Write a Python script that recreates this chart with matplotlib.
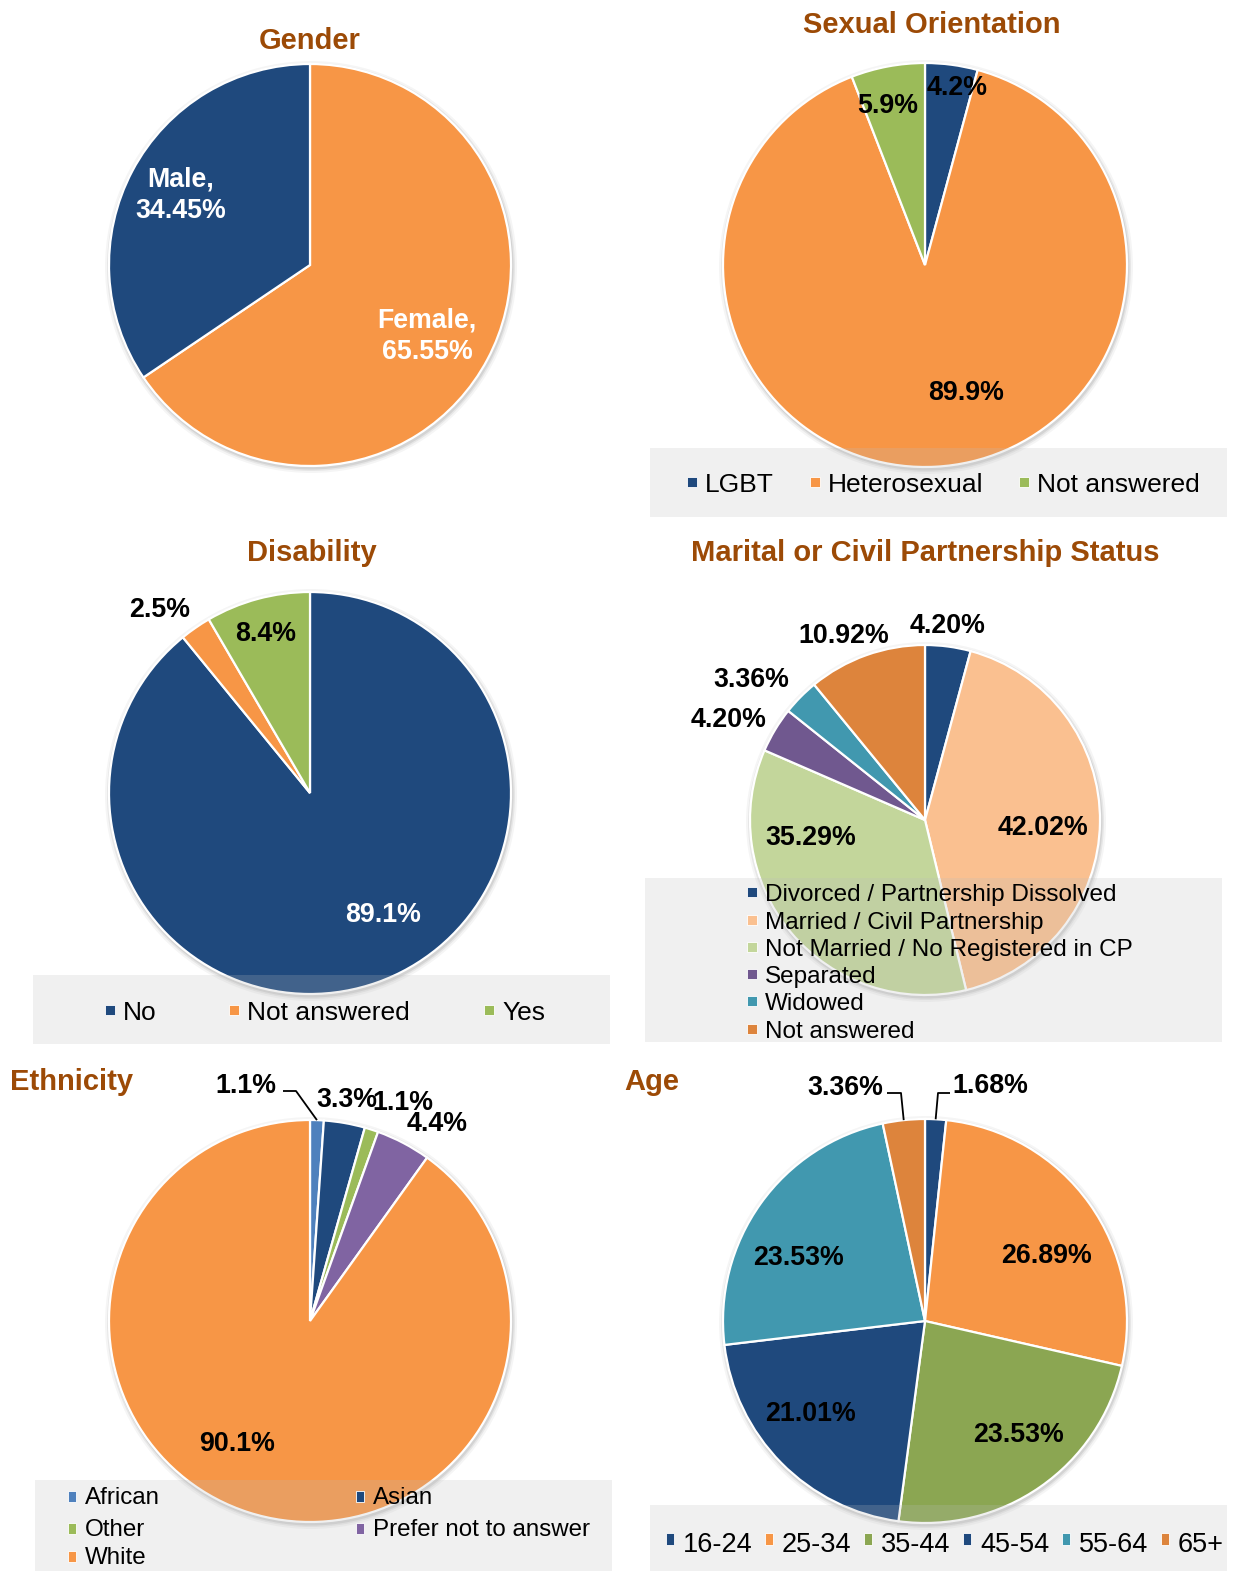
import numpy as np
import matplotlib
matplotlib.use("Agg")
import matplotlib.pyplot as plt
from matplotlib.patches import Rectangle, Circle

# ---------------- data ----------------
gender_labels = ["Female", "Male"]
gender_values = [65.55, 34.45]

sexual_labels = ["LGBT", "Heterosexual", "Not answered"]
sexual_values = [4.2, 89.9, 5.9]

disab_labels = ["No", "Not answered", "Yes"]
disab_values = [89.1, 2.5, 8.4]

marital_labels = ["Divorced / Partnership Dissolved", "Married / Civil Partnership",
                  "Not Married / No Registered in CP", "Separated", "Widowed", "Not answered"]
marital_values = [4.20, 42.02, 35.29, 4.20, 3.36, 10.92]

eth_labels = ["African", "Asian", "Other", "Prefer not to answer", "White"]
eth_values = [1.1, 3.3, 1.1, 4.4, 90.1]

age_labels = ["16-24", "25-34", "35-44", "45-54", "55-64", "65+"]
age_values = [1.68, 26.89, 23.53, 21.01, 23.53, 3.36]

# ---------------- style ----------------
W, H = 1235, 1571
DBLUE = "#1f497d"
ORANGE = "#f79646"
GREEN = "#9bbb59"
TITLE_C = "#9c4a06"
BOLD = ["Liberation Sans", "DejaVu Sans"]
NARROW = ["Liberation Sans Narrow", "Liberation Sans", "DejaVu Sans"]

gender_colors = [ORANGE, DBLUE]
sexual_colors = [DBLUE, ORANGE, GREEN]
disab_colors = [DBLUE, ORANGE, GREEN]
marital_colors = [DBLUE, "#fac090", "#c3d69b", "#70588f", "#4198af", "#dd843c"]
eth_colors = ["#4f81bd", DBLUE, GREEN, "#8064a2", ORANGE]
age_colors = [DBLUE, ORANGE, "#8ba652", DBLUE, "#4198af", "#dd843c"]

fig = plt.figure(figsize=(W / 100, H / 100), dpi=100)
ax = fig.add_axes([0, 0, 1, 1])


def Y(y):
    return H - y


def pie(vals, colors, cx, cy, r):
    for dr, a in [(5, 0.04), (3, 0.06), (1.5, 0.08)]:
        ax.add_patch(Circle((cx + 1, Y(cy) - 2), r + dr, color="black", alpha=a, lw=0, zorder=0))
    wedges, _ = ax.pie(vals, colors=colors, startangle=90, counterclock=False,
                       center=(cx, Y(cy)), radius=r,
                       wedgeprops=dict(edgecolor="white", linewidth=1.6))
    for w in wedges:
        w.set_zorder(2)
    return wedges


def labels(vals, pos, dec, color="black", prefix=None):
    for i, (v, p) in enumerate(zip(vals, pos)):
        s = f"{v:.{dec}f}%"
        if prefix is not None:
            s = f"{prefix[i]},\n{s}"
        ax.text(p[0], Y(p[1] + 3), s, ha="center", va="center", fontsize=19.3,
                fontweight="bold", color=color, family=BOLD, zorder=8, linespacing=1.3)


def title(s, x, y, ha="center"):
    ax.text(x, Y(y + 3), s, ha=ha, va="center", fontsize=21, fontweight="bold",
            color=TITLE_C, family=BOLD, zorder=8)


def legend_box(x0, y0, x1, y1):
    ax.add_patch(Rectangle((x0, Y(y1)), x1 - x0, y1 - y0, facecolor=(0.74, 0.74, 0.74),
                           alpha=0.22, lw=0, zorder=5))


def legend_items(names, colors, xs, ys, fam=BOLD, fs=17.5, sq=(10, 10), dy=0):
    for n, c, x, y in zip(names, colors, xs, ys):
        ax.add_patch(Rectangle((x - 13 - sq[0] / 2, Y(y) - sq[1] / 2), sq[0], sq[1],
                               facecolor=c, edgecolor="white", lw=0.6, zorder=6))
        ax.text(x, Y(y + dy), n, ha="left", va="center_baseline", fontsize=fs, family=fam,
                color="black", zorder=6)


def leader(wedge, cx, cy, r, pts):
    m = np.deg2rad((wedge.theta1 + wedge.theta2) / 2)
    ex, ey = cx + r * np.cos(m), Y(cy) + r * np.sin(m)
    xs = [p[0] for p in pts] + [ex]
    ys = [Y(p[1]) for p in pts] + [ey]
    ax.plot(xs, ys, color="black", lw=1.3, zorder=7, solid_capstyle="butt")


# ---------- Gender ----------
title("Gender", 310, 38)
pie(gender_values, gender_colors, 310, 265, 201)
labels(gender_values, [(427, 333), (181, 192)], 2, color="white", prefix=gender_labels)

# ---------- Sexual orientation ----------
title("Sexual Orientation", 932, 22)
pie(sexual_values, sexual_colors, 925, 265, 202)
labels(sexual_values, [(957, 85), (966, 390), (888, 103)], 1)
legend_box(650, 448, 1227, 517)
legend_items(sexual_labels, sexual_colors, [705, 828, 1037], [482, 482, 482], fs=19)

# ---------- Disability ----------
title("Disability", 312, 550)
pie(disab_values, disab_colors, 310, 793, 201)
labels([disab_values[0]], [(383, 912)], 1, color="white")
labels(disab_values[1:], [(160, 607), (266, 631)], 1)
legend_box(33, 975, 610, 1044)
legend_items(disab_labels, disab_colors, [123, 247, 502], [1010, 1010, 1010], fs=19)

# ---------- Marital ----------
title("Marital or Civil Partnership Status", 925, 550)
pie(marital_values, marital_colors, 925, 820, 175)
labels(marital_values, [(948, 623), (1043, 825), (811, 835), (729, 717), (751, 677), (844, 633)], 2)
legend_box(645, 878, 1222, 1042)
legend_items(marital_labels, marital_colors, [765] * 6, [892, 920, 947, 974, 1001, 1029])

# ---------- Ethnicity ----------
title("Ethnicity", 10, 1079, ha="left")
ew = pie(eth_values, eth_colors, 310, 1321, 201)
labels(eth_values, [(246, 1083), (347, 1097), (403, 1100), (437, 1121), (237, 1441)], 1)
leader(ew[0], 310, 1321, 201, [(283, 1091), (296, 1091)])
legend_box(35, 1480, 612, 1575)
legend_items(eth_labels, eth_colors, [85, 373, 85, 373, 85], [1496, 1496, 1528, 1528, 1556],
             fam=NARROW, fs=17.4, sq=(8, 11), dy=0)

# ---------- Age ----------
title("Age", 652, 1079)
aw = pie(age_values, age_colors, 925, 1321, 202)
labels(age_values, [(990, 1083), (1047, 1253), (1018, 1432), (810, 1411), (798, 1255), (845, 1085)], 2)
leader(aw[0], 925, 1321, 202, [(950, 1093), (938, 1093)])
leader(aw[5], 925, 1321, 202, [(887, 1093), (901, 1093)])
legend_box(650, 1505, 1227, 1575)
legend_items(age_labels, age_colors, [683, 782, 881, 980, 1079, 1178], [1539] * 6,
             fam=NARROW, fs=19.5, sq=(8, 12), dy=3)

ax.set_xlim(0, W)
ax.set_ylim(0, H)
ax.set_aspect("equal")
ax.axis("off")
fig.savefig("out.png", dpi=100, facecolor="white")
